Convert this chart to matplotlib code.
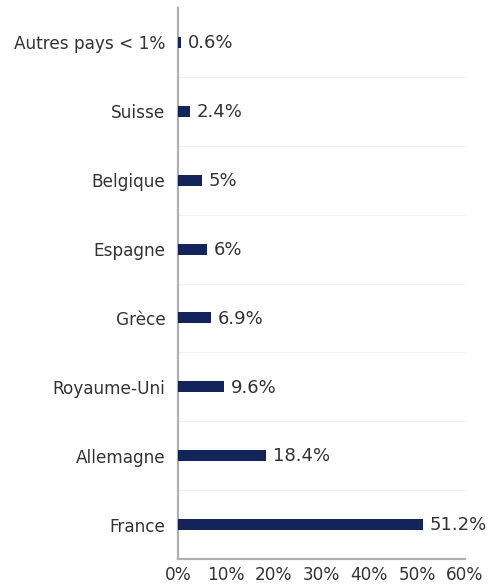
import matplotlib.pyplot as plt
from matplotlib.ticker import FuncFormatter

countries = ['France', 'Allemagne', 'Royaume-Uni', 'Grèce', 'Espagne',
             'Belgique', 'Suisse', 'Autres pays < 1%']
shares = [51.2, 18.4, 9.6, 6.9, 6, 5, 2.4, 0.6]
value_labels = ['51.2%', '18.4%', '9.6%', '6.9%', '6%', '5%', '2.4%', '0.6%']
x_ticks = [0, 10, 20, 30, 40, 50, 60]

fig = plt.figure(figsize=(4.88, 5.85), dpi=100)
ax = fig.add_axes([0.3648, 0.0444, 0.5881, 0.9419])

pos = list(range(len(countries)))
ax.barh(pos, shares, height=0.16, color='#13235c', zorder=3)

for y, v, lab in zip(pos, shares, value_labels):
    ax.annotate(lab, (v, y), xytext=(5, -0.5), textcoords='offset points',
                va='center', ha='left', fontsize=13, color='#333333')

# faint separators between categories
for y in pos[:-1]:
    ax.axhline(y + 0.5, color='#f0f0f0', lw=0.8, zorder=1)

ax.set_ylim(-0.5, len(countries) - 0.5)
ax.set_xlim(0, 60)
ax.set_xticks(x_ticks)
ax.xaxis.set_major_formatter(FuncFormatter(lambda v, p: f'{v:.0f}%'))
ax.set_yticks(pos)
ax.set_yticklabels(countries)

ax.tick_params(axis='both', length=0, labelsize=12.2, labelcolor='#333333')
ax.tick_params(axis='y', pad=9)
ax.tick_params(axis='x', pad=5)

for side in ['top', 'right']:
    ax.spines[side].set_visible(False)
for side in ['left', 'bottom']:
    ax.spines[side].set_color('#b0b0b0')
    ax.spines[side].set_linewidth(1.6)

fig.savefig('out.png', dpi=100)
